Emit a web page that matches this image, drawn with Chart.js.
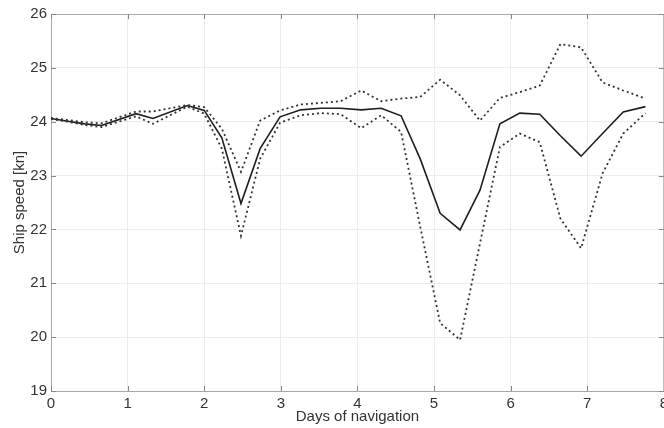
<!DOCTYPE html>
<html>
<head>
<meta charset="utf-8">
<script src="https://cdn.jsdelivr.net/npm/chart.js@4"></script>
<style>
  html, body { margin: 0; padding: 0; background: #fff; overflow: hidden; }
  #wrap { width: 664px; height: 428px; overflow: hidden; }
</style>
</head>
<body>
<div id="wrap"><canvas id="myChart" width="672" height="428"></canvas></div>
<script>
// days of navigation (x) and ship speeds [kn]
const days = [0, 0.22, 0.44, 0.66, 1.11, 1.33, 1.78, 2.0, 2.23, 2.48, 2.73, 2.99, 3.26, 3.52, 3.78,
  4.05, 4.31, 4.57, 4.82, 5.08, 5.34, 5.60, 5.86, 6.12, 6.38, 6.65, 6.92, 7.20, 7.47, 7.76];
const speedMean = [24.06, 24.01, 23.96, 23.93, 24.15, 24.06, 24.30, 24.21, 23.70, 22.48, 23.50, 24.09, 24.22, 24.25, 24.25,
  24.22, 24.25, 24.11, 23.31, 22.30, 21.99, 22.73, 23.96, 24.16, 24.14, 23.74, 23.36, 23.78, 24.18, 24.28];
const speedUpper = [24.07, 24.03, 23.99, 23.97, 24.19, 24.19, 24.31, 24.27, 23.87, 23.07, 24.02, 24.21, 24.32, 24.35, 24.38,
  24.58, 24.38, 24.43, 24.46, 24.78, 24.49, 24.02, 24.44, 24.55, 24.67, 25.44, 25.38, 24.73, 24.58, 24.43];
const speedLower = [24.05, 24.00, 23.94, 23.90, 24.10, 23.96, 24.28, 24.15, 23.50, 21.88, 23.31, 23.98, 24.12, 24.16, 24.14,
  23.88, 24.12, 23.81, 22.05, 20.26, 19.95, 21.74, 23.53, 23.78, 23.62, 22.20, 21.65, 23.04, 23.78, 24.16];
const xTicks = [0, 1, 2, 3, 4, 5, 6, 7, 8];
const yTicks = [19, 20, 21, 22, 23, 24, 25, 26];

const pts = arr => arr.map((v, i) => ({ x: days[i], y: v }));
const font = { family: "'Liberation Sans', Arial, sans-serif", size: 15 };

// box + inward ticks, matlab style
const boxPlugin = {
  id: 'box',
  afterDraw(chart) {
    const { ctx, chartArea: a, scales } = chart;
    ctx.save();
    ctx.strokeStyle = '#a8a8a8';
    ctx.lineWidth = 1;
    ctx.beginPath();
    ctx.moveTo(a.left, a.top + 0.5);
    ctx.lineTo(a.right, a.top + 0.5);
    ctx.lineTo(a.right, a.bottom);
    ctx.stroke();
    ctx.strokeStyle = '#888';
    ctx.beginPath();
    yTicks.forEach(t => {
      const y = Math.round(scales.y.getPixelForValue(t)) + 0.5;
      ctx.moveTo(a.left, y); ctx.lineTo(a.left + 5, y);
      ctx.moveTo(a.right, y); ctx.lineTo(a.right - 5, y);
    });
    xTicks.forEach(t => {
      const x = Math.round(scales.x.getPixelForValue(t)) + 0.5;
      ctx.moveTo(x, a.bottom); ctx.lineTo(x, a.bottom - 5);
      ctx.moveTo(x, a.top); ctx.lineTo(x, a.top + 5);
    });
    ctx.stroke();
    ctx.restore();
  }
};

const ctx = document.getElementById('myChart');

new Chart(ctx, {
  type: 'line',
  data: {
    datasets: [
      { label: 'upper', data: pts(speedUpper), borderColor: '#333', borderWidth: 1.8, borderDash: [2, 3], pointRadius: 0, tension: 0 },
      { label: 'lower', data: pts(speedLower), borderColor: '#333', borderWidth: 1.8, borderDash: [2, 3], pointRadius: 0, tension: 0 },
      { label: 'mean', data: pts(speedMean), borderColor: '#1e1e1e', borderWidth: 1.6, pointRadius: 0, tension: 0 }
    ]
  },
  options: {
    responsive: false,
    animation: false,
    layout: { padding: { top: 14, right: 6, left: 0, bottom: 0 } },
    plugins: { legend: { display: false }, tooltip: { enabled: false } },
    scales: {
      x: {
        type: 'linear', min: 0, max: 8,
        afterBuildTicks: s => { s.ticks = xTicks.map(v => ({ value: v })); },
        afterFit: s => { s.height = 37; },
        grid: { color: '#ececec', drawTicks: false },
        border: { color: '#a8a8a8' },
        ticks: { color: '#333', font: font, padding: 4, maxRotation: 0 },
        title: { display: true, text: 'Days of navigation', color: '#333', font: font, padding: { top: 0, bottom: 2 } }
      },
      y: {
        type: 'linear', min: 19, max: 26,
        afterBuildTicks: s => { s.ticks = yTicks.map(v => ({ value: v })); },
        afterFit: s => { s.width = 51; },
        grid: { color: '#ececec', drawTicks: false },
        border: { color: '#a8a8a8' },
        ticks: { color: '#333', font: font, padding: 4 },
        title: { display: true, text: 'Ship speed [kn]', color: '#333', font: font, padding: { top: 11, bottom: 0 } }
      }
    }
  },
  plugins: [boxPlugin]
});
</script>
</body>
</html>
